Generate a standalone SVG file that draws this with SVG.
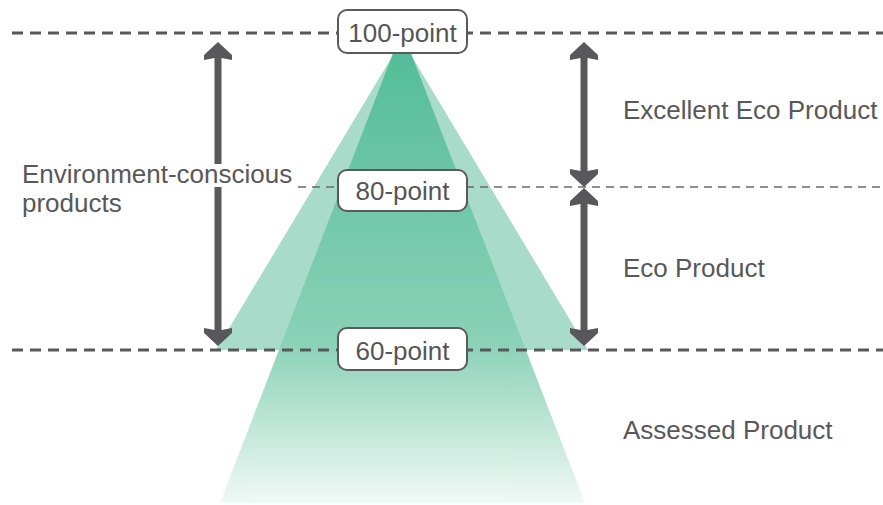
<svg xmlns="http://www.w3.org/2000/svg" width="883" height="505" viewBox="0 0 883 505">
  <style>
    .lbl { font-family: "Liberation Sans", Arial, sans-serif; font-size: 26px; fill: #58585a; }
    .pt { font-family: "Liberation Sans", Arial, sans-serif; font-size: 26px; fill: #555557; text-anchor: middle; }
    .box { fill: #ffffff; stroke: #5a5a5c; stroke-width: 2; }
    .thick { stroke: #58585a; stroke-width: 3; stroke-dasharray: 11 7; fill: none; }
    .thin { stroke: #6a6a6c; stroke-width: 1.5; stroke-dasharray: 8 6; fill: none; }
    .arr { fill: #58585a; stroke: none; }
  </style>
  <defs>
    <linearGradient id="inner" gradientUnits="userSpaceOnUse" x1="0" y1="30" x2="0" y2="503">
      <stop offset="0" stop-color="#50bb96"/>
      <stop offset="0.66" stop-color="#8ad1b8"/>
      <stop offset="1" stop-color="#f0f9f5"/>
    </linearGradient>
  </defs>

  <g id="cones">
    <polygon id="outer-cone" points="402,40 216,350 588,350" fill="#a8dbca"/>
    <polygon id="inner-cone" points="402,30 220,503 585,503" fill="url(#inner)"/>
  </g>

  <g id="connectors">
    <line class="thick" x1="12" y1="33" x2="883" y2="33"/>
    <line class="thin" x1="298" y1="187" x2="883" y2="187"/>
    <line class="thick" x1="12" y1="350" x2="883" y2="350"/>
    <path class="arr" d="M218,42 L232,55 L232,60 L221.5,58 L221.5,330 L232,328 L232,333 L218,346 L204,333 L204,328 L214.5,330 L214.5,58 L204,60 L204,55 Z"/>
    <path class="arr" d="M584,42 L598,55 L598,60 L587.5,58 L587.5,171 L598,169 L598,174 L584,187 L570,174 L570,169 L580.5,171 L580.5,58 L570,60 L570,55 Z"/>
    <path class="arr" d="M584,188 L598,201 L598,206 L587.5,204 L587.5,330 L598,328 L598,333 L584,346 L570,333 L570,328 L580.5,330 L580.5,204 L570,206 L570,201 Z"/>
  </g>

  <g id="env-label">
    <rect x="20" y="164" width="277" height="23" fill="#ffffff"/>
    <text class="lbl" x="22" y="183">Environment-conscious</text>
    <text class="lbl" x="22" y="212">products</text>
  </g>

  <g id="p100">
    <rect class="box" x="338" y="10" width="129" height="43" rx="9"/>
    <text class="pt" x="402.5" y="42">100-point</text>
  </g>
  <g id="p80">
    <rect class="box" x="338" y="170" width="129" height="41" rx="9"/>
    <text class="pt" x="402.5" y="200">80-point</text>
  </g>
  <g id="p60">
    <rect class="box" x="338" y="328" width="129" height="42" rx="9"/>
    <text class="pt" x="402.5" y="360">60-point</text>
  </g>

  <g id="excellent">
    <text class="lbl" x="623" y="119">Excellent Eco Product</text>
  </g>
  <g id="eco">
    <text class="lbl" x="623" y="277">Eco Product</text>
  </g>
  <g id="assessed">
    <text class="lbl" x="623" y="439">Assessed Product</text>
  </g>
</svg>
